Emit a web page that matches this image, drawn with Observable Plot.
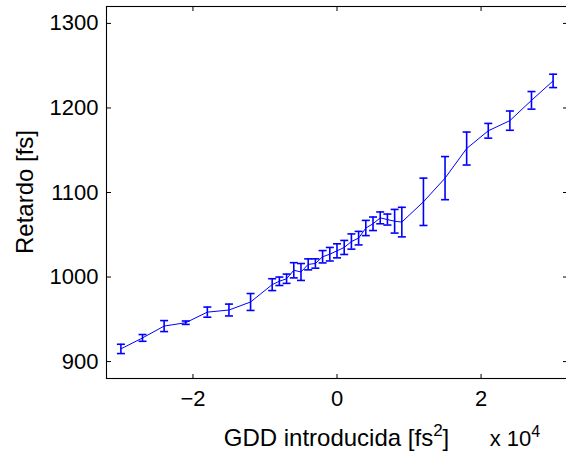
<!DOCTYPE html>
<html>
<head>
<meta charset="utf-8">
<script src="https://cdn.jsdelivr.net/npm/d3@7"></script>
<script src="https://cdn.jsdelivr.net/npm/@observablehq/plot@0.6"></script>
<style>
  html, body { margin: 0; padding: 0; background: #fff; overflow: hidden; }
  #chart { width: 566px; height: 453px; }
</style>
</head>
<body>
<div id="chart"></div>
<script>
// GDD (fs^2)
const gdd = [-30000,-27000,-24000,-21000,-18000,-15000,-12000,-9000,-8000,-7000,-6000,-5000,-4000,-3000,-2000,-1000,0,1000,2000,3000,4000,5000,6000,7000,8000,9000,12000,15000,18000,21000,24000,27000,30000];
// Retardo (fs)
const retardo = [915,928,942,946,958.5,961,970.5,991,995,998,1008,1006,1015,1016,1024,1027,1031,1035,1042,1046,1058,1063,1070,1068,1066,1065,1089,1117,1152,1173,1185,1209,1232];
// error half-widths (fs)
const errores = [5.5,4,6.5,2,6,7,10,7,5,5.5,9,10,6.5,5.5,7.3,8,8.3,8.3,9,8,9,8,7,6.5,14,17.5,28,25.5,19.5,8.7,11.4,10.4,7.9];

const xTicks = [-20000, 0, 20000];
const xTickLabels = ["\u22122", "0", "2"];
const yTicks = [900, 1000, 1100, 1200, 1300];
const yTickLabels = ["900", "1000", "1100", "1200", "1300"];

const xLabel = "GDD introducida [fs";
const xLabelSup = "2";
const xLabelEnd = "]";
const yLabel = "Retardo [fs]";
const expBase = "x 10";
const expSup = "4";

const data = gdd.map((x, i) => ({x, y: retardo[i], e: errores[i]}));

const FONT = "'Liberation Sans', Arial, Helvetica, sans-serif";
const BLUE = "#0000ff";

const capSymbol = {draw(ctx) { ctx.moveTo(-4, 0); ctx.lineTo(4, 0); }};
const tickUp = {draw(ctx) { ctx.moveTo(0, 0); ctx.lineTo(0, -4.5); }};
const tickDown = {draw(ctx) { ctx.moveTo(0, 0); ctx.lineTo(0, 4.5); }};
const tickRight = {draw(ctx) { ctx.moveTo(0, 0); ctx.lineTo(4.5, 0); }};
const tickLeft = {draw(ctx) { ctx.moveTo(0, 0); ctx.lineTo(-4.5, 0); }};

const plot = Plot.plot({
  width: 566,
  height: 453,
  marginLeft: 106,
  marginRight: -1,
  marginTop: 6,
  marginBottom: 75,
  style: {fontFamily: FONT, fontSize: "22px", background: "#fff", color: "#000"},
  x: {domain: [-32000, 32000]},
  y: {domain: [880, 1320]},
  marks: [
    Plot.axisX(xTicks, {anchor: "bottom", tickSize: 0, tickPadding: 12, fontSize: 22, label: null,
      tickFormat: d => xTickLabels[xTicks.indexOf(d)]}),
    Plot.axisY(yTicks, {anchor: "left", tickSize: 0, tickPadding: 8, fontSize: 22, label: null,
      tickFormat: d => yTickLabels[yTicks.indexOf(d)]}),
    Plot.dot(xTicks, {x: d => d, frameAnchor: "bottom", symbol: tickUp, stroke: "black", fill: "none", strokeWidth: 1}),
    Plot.dot(xTicks, {x: d => d, frameAnchor: "top", symbol: tickDown, stroke: "black", fill: "none", strokeWidth: 1}),
    Plot.dot(yTicks, {y: d => d, frameAnchor: "left", symbol: tickRight, stroke: "black", fill: "none", strokeWidth: 1}),
    Plot.dot(yTicks, {y: d => d, frameAnchor: "right", symbol: tickLeft, stroke: "black", fill: "none", strokeWidth: 1}),
    Plot.ruleX(data, {x: "x", y1: d => d.y - d.e, y2: d => d.y + d.e, stroke: BLUE, strokeWidth: 1.6}),
    Plot.dot(data, {x: "x", y: d => d.y - d.e, symbol: capSymbol, stroke: BLUE, fill: "none", strokeWidth: 1.6}),
    Plot.dot(data, {x: "x", y: d => d.y + d.e, symbol: capSymbol, stroke: BLUE, fill: "none", strokeWidth: 1.6}),
    Plot.line(data, {x: "x", y: "y", stroke: BLUE, strokeWidth: 1}),
    Plot.frame({stroke: "black", strokeWidth: 1.1})
  ]
});

document.getElementById("chart").appendChild(plot);

const svg = d3.select(plot);
const xs = plot.scale("x"), ys = plot.scale("y");
const cx = (xs.range[0] + xs.range[1]) / 2;
const cy = (ys.range[0] + ys.range[1]) / 2;

const tx = svg.append("text")
  .attr("x", cx).attr("y", 446)
  .attr("text-anchor", "middle")
  .attr("fill", "#000")
  .style("font-family", FONT).style("font-size", "24px");
tx.append("tspan").text(xLabel);
tx.append("tspan").attr("dy", -10).style("font-size", "17px").text(xLabelSup);
tx.append("tspan").attr("dy", 10).text(xLabelEnd);

svg.append("text")
  .attr("transform", `translate(33,${cy}) rotate(-90)`)
  .attr("text-anchor", "middle")
  .attr("fill", "#000")
  .style("font-family", FONT).style("font-size", "24px")
  .text(yLabel);

const te = svg.append("text")
  .attr("x", 515).attr("y", 446)
  .attr("fill", "#000")
  .style("font-family", FONT).style("font-size", "22px");
te.append("tspan").text(expBase);
te.append("tspan").attr("dy", -9).style("font-size", "16px").text(expSup);
</script>
</body>
</html>
